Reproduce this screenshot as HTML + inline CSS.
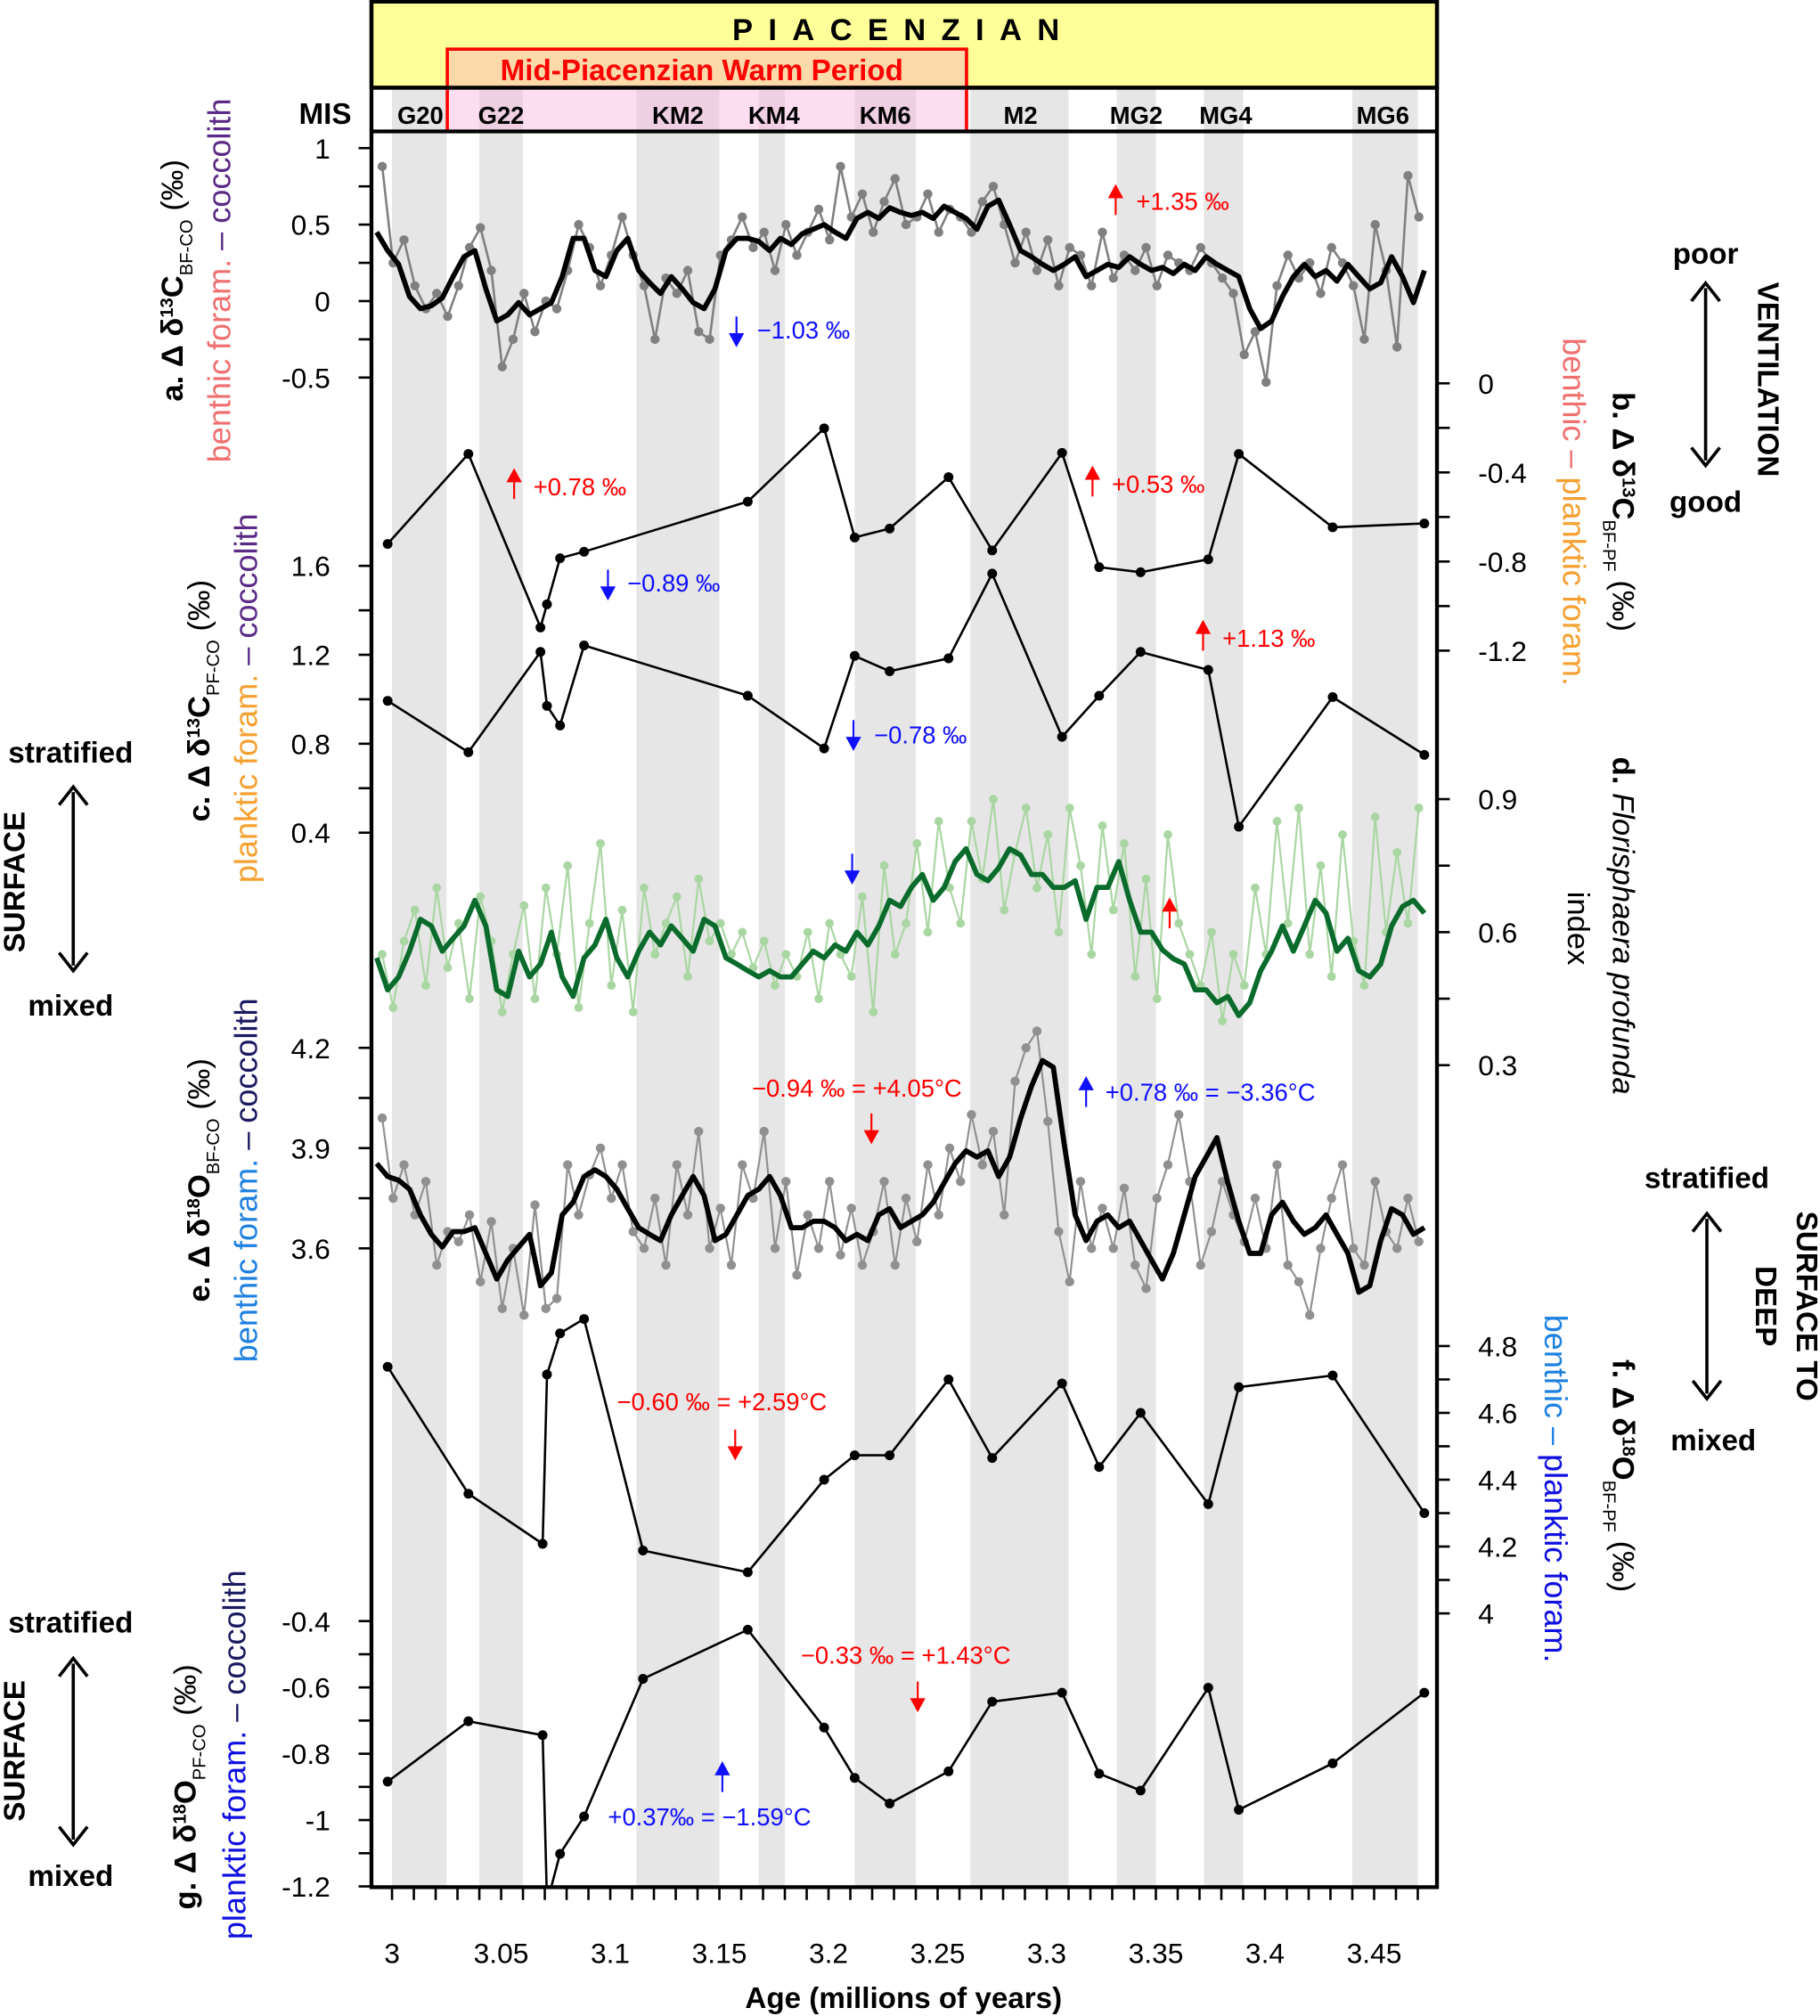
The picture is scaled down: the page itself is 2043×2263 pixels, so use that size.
<!DOCTYPE html>
<html><head><meta charset="utf-8"><style>
html,body{margin:0;padding:0;background:#fff}
svg{display:block;font-family:"Liberation Sans",Arial,sans-serif}
</style></head><body>
<svg id="chart" xmlns="http://www.w3.org/2000/svg" width="2043" height="2263" viewBox="0 0 1416 1568">
<g id="bands"></g>
<g id="header">
<rect x="289" y="1" width="829" height="67" fill="#ffff99" stroke="#000" stroke-width="3"/>
<text x="703" y="31" text-anchor="middle" font-size="24" font-weight="bold" letter-spacing="12">PIACENZIAN</text>
<rect x="348" y="38" width="404" height="30" fill="#fcd9a8"/>
<rect x="348" y="68" width="404" height="34" fill="#fbb6e0" opacity="0.45"/>
<rect x="348" y="38" width="404" height="64" fill="none" stroke="#ff0000" stroke-width="2.5"/>
<text x="546" y="62" text-anchor="middle" font-size="23" font-weight="bold" fill="#ff0000">Mid-Piacenzian Warm Period</text>
<line x1="289" y1="68" x2="1118" y2="68" stroke="#000" stroke-width="3"/>
<line x1="289" y1="102" x2="1118" y2="102" stroke="#000" stroke-width="3"/>
<text x="253" y="96" text-anchor="middle" font-size="23" font-weight="bold">MIS</text>
</g>
<g id="series"></g>
<rect x="289" y="1" width="829" height="1467" fill="none" stroke="#000" stroke-width="3"/>
<g id="axes"></g>
<g id="annot" font-size="19"></g>
<g id="labels"></g>
</svg>
<script>
// ---- data ----
const misNames=["G20","G22","KM2","KM4","KM6","M2","MG2","MG4","MG6"];
const misStart=[3.0,3.04,3.112,3.168,3.212,3.265,3.332,3.372,3.44];
const misEnd=[3.025,3.06,3.15,3.18,3.24,3.31,3.35,3.39,3.47];
const misLabelAge=[3.013,3.05,3.131,3.175,3.226,3.288,3.341,3.382,3.454];
const xTickLabels=["3","3.05","3.1","3.15","3.2","3.25","3.3","3.35","3.4","3.45"];

const aSmoothStart=2.993, aStep=0.005;
const aSmooth=[0.45,0.33,0.24,0.03,-0.05,-0.03,0.02,0.16,0.29,0.33,0.08,-0.13,-0.09,-0.01,-0.09,-0.05,-0.01,0.16,0.41,0.41,0.20,0.16,0.33,0.41,0.20,0.12,0.05,0.16,0.08,-0.01,-0.05,0.08,0.33,0.41,0.41,0.39,0.33,0.41,0.37,0.44,0.47,0.50,0.45,0.41,0.54,0.58,0.54,0.61,0.58,0.56,0.58,0.54,0.62,0.58,0.54,0.47,0.62,0.66,0.50,0.33,0.29,0.24,0.20,0.24,0.29,0.16,0.20,0.24,0.22,0.29,0.24,0.20,0.22,0.18,0.24,0.20,0.29,0.24,0.20,0.16,-0.05,-0.18,-0.13,0.03,0.16,0.24,0.16,0.20,0.13,0.24,0.16,0.08,0.12,0.29,0.16,-0.01,0.20];
const aRawStart=2.9955;
const aRaw=[0.88,0.25,0.40,0.10,-0.05,0.05,-0.10,0.10,0.35,0.48,0.20,-0.43,-0.25,0.05,-0.20,0.00,-0.05,0.20,0.50,0.35,0.10,0.30,0.55,0.30,0.10,-0.25,0.15,0.05,0.20,-0.20,-0.25,0.30,0.40,0.55,0.35,0.45,0.20,0.50,0.30,0.45,0.60,0.40,0.88,0.55,0.70,0.45,0.65,0.80,0.50,0.55,0.70,0.45,0.60,0.55,0.45,0.65,0.75,0.50,0.25,0.45,0.20,0.40,0.10,0.35,0.30,0.10,0.45,0.15,0.30,0.20,0.35,0.10,0.30,0.25,0.20,0.35,0.25,0.15,0.05,-0.35,-0.20,-0.53,0.10,0.30,0.15,0.25,0.05,0.35,0.25,0.10,-0.25,0.50,0.20,-0.30,0.82,0.55];

const lowResAges=[2.998,3.035,3.068,3.071,3.077,3.088,3.163,3.198,3.212,3.228,3.255,3.275,3.307,3.324,3.343,3.374,3.388,3.431,3.473];
const bVals=[-0.721,-0.317,-1.096,-0.992,-0.785,-0.756,-0.531,-0.202,-0.692,-0.652,-0.421,-0.750,-0.312,-0.825,-0.848,-0.790,-0.317,-0.646,-0.629];
const cVals=[0.993,0.762,1.213,0.970,0.882,1.242,1.016,0.779,1.195,1.126,1.184,1.565,0.831,1.016,1.213,1.132,0.427,1.010,0.750];
const fgAges=[2.998,3.035,3.069,3.071,3.077,3.088,3.115,3.163,3.198,3.212,3.228,3.255,3.275,3.307,3.324,3.343,3.374,3.388,3.431,3.473];
const fVals=[4.738,4.358,4.208,4.715,4.838,4.881,4.188,4.123,4.400,4.473,4.473,4.700,4.465,4.688,4.438,4.600,4.327,4.677,4.712,4.300];
const gVals=[-0.884,-0.702,-0.744,-1.25,-1.102,-0.989,-0.574,-0.426,-0.721,-0.873,-0.950,-0.853,-0.643,-0.616,-0.860,-0.911,-0.601,-0.969,-0.829,-0.616];

const dSmooth=[0.542,0.470,0.499,0.557,0.629,0.614,0.557,0.586,0.614,0.672,0.614,0.470,0.455,0.557,0.499,0.528,0.600,0.499,0.455,0.542,0.571,0.629,0.542,0.499,0.557,0.600,0.571,0.614,0.586,0.557,0.629,0.614,0.542,0.528,0.513,0.499,0.513,0.499,0.499,0.528,0.557,0.542,0.571,0.557,0.600,0.571,0.614,0.672,0.658,0.701,0.730,0.672,0.701,0.759,0.788,0.730,0.716,0.745,0.788,0.774,0.730,0.730,0.701,0.701,0.716,0.629,0.701,0.701,0.759,0.672,0.600,0.600,0.560,0.540,0.528,0.470,0.470,0.441,0.455,0.412,0.441,0.513,0.557,0.614,0.557,0.614,0.672,0.643,0.557,0.586,0.513,0.499,0.528,0.614,0.658,0.672,0.643];
const dRaw=[0.55,0.43,0.58,0.65,0.48,0.70,0.52,0.62,0.45,0.68,0.58,0.42,0.55,0.66,0.45,0.70,0.55,0.75,0.43,0.62,0.80,0.48,0.65,0.42,0.70,0.55,0.62,0.68,0.50,0.72,0.58,0.62,0.55,0.60,0.52,0.58,0.48,0.55,0.50,0.60,0.45,0.62,0.55,0.50,0.68,0.42,0.75,0.55,0.62,0.80,0.60,0.85,0.70,0.62,0.85,0.72,0.90,0.65,0.78,0.88,0.70,0.82,0.60,0.88,0.75,0.55,0.84,0.65,0.80,0.50,0.72,0.45,0.82,0.62,0.55,0.48,0.60,0.40,0.55,0.48,0.70,0.55,0.85,0.62,0.88,0.55,0.75,0.50,0.82,0.58,0.48,0.86,0.60,0.78,0.62,0.88];

const eSmooth=[3.854,3.815,3.804,3.777,3.700,3.642,3.604,3.650,3.650,3.662,3.585,3.508,3.565,3.604,3.642,3.488,3.527,3.700,3.738,3.815,3.835,3.815,3.777,3.719,3.662,3.642,3.623,3.700,3.758,3.815,3.758,3.623,3.642,3.700,3.758,3.777,3.815,3.758,3.662,3.662,3.681,3.681,3.662,3.623,3.642,3.623,3.700,3.719,3.662,3.681,3.700,3.738,3.796,3.854,3.892,3.873,3.892,3.815,3.873,3.988,4.085,4.162,4.142,3.912,3.700,3.623,3.681,3.700,3.662,3.681,3.623,3.565,3.508,3.585,3.700,3.815,3.873,3.931,3.796,3.681,3.585,3.585,3.700,3.738,3.681,3.642,3.662,3.700,3.642,3.585,3.469,3.488,3.623,3.719,3.700,3.642,3.662];
const eRaw=[3.99,3.75,3.85,3.70,3.80,3.55,3.65,3.62,3.70,3.50,3.68,3.42,3.60,3.40,3.73,3.42,3.45,3.85,3.70,3.82,3.90,3.75,3.85,3.65,3.60,3.75,3.55,3.85,3.70,3.95,3.60,3.72,3.55,3.85,3.75,3.95,3.60,3.80,3.52,3.70,3.60,3.80,3.58,3.72,3.55,3.65,3.80,3.55,3.75,3.62,3.85,3.70,3.90,3.80,4.00,3.85,3.95,3.70,4.10,4.20,4.25,3.98,3.65,3.50,3.80,3.60,3.72,3.60,3.78,3.55,3.48,3.75,3.85,4.00,3.80,3.55,3.65,3.80,3.70,3.62,3.75,3.60,3.85,3.55,3.50,3.40,3.60,3.75,3.85,3.60,3.55,3.80,3.65,3.60,3.75,3.62];

const aTicks=[1,0.5,0,-0.5], bTicks=[0,-0.4,-0.8,-1.2], cTicks=[1.6,1.2,0.8,0.4];
const dTicks=[0.9,0.6,0.3], eTicks=[4.2,3.9,3.6], fTicks=[4.8,4.6,4.4,4.2,4], gTicks=[-0.4,-0.6,-0.8,-1,-1.2];

// ---- scales ----
const NS="http://www.w3.org/2000/svg";
const X=a=>305+(a-3)*1698;
const Ya=v=>234-v*119, Yb=v=>298-v*173.3, Yc=v=>440-(v-1.6)*173, Yd=v=>725-(v-0.6)*345;
const Ye=v=>893-(v-3.9)*260, Yf=v=>1047-(v-4.8)*260, Yg=v=>1261-(v+0.4)*258;
function mk(tag,attrs,parent){const e=document.createElementNS(NS,tag);for(const k in attrs)e.setAttribute(k,attrs[k]);parent.appendChild(e);return e;}
const S=document.getElementById('series'),B=document.getElementById('bands'),AX=document.getElementById('axes'),AN=document.getElementById('annot'),LB=document.getElementById('labels');
const H=document.getElementById('header');

misNames.forEach((n,i)=>{
  const r=mk('rect',{x:X(misStart[i]),y:68,width:X(misEnd[i])-X(misStart[i]),height:1400,fill:'#e6e6e6'},B);
  
  
  const t=mk('text',{x:X(misLabelAge[i]),y:96,'text-anchor':'middle','font-size':19,'font-weight':'bold'},H);
  t.textContent=n;
  
  
});

function line(ages,vals,Y,opt,name){
  const pts=vals.map((v,i)=>X(ages[i]).toFixed(1)+','+Y(v).toFixed(1)).join(' ');
  const g=mk('g',{'clip-path':'url(#clip)'},S);
  
  
  mk('polyline',{points:pts,fill:'none',stroke:opt.c,'stroke-width':opt.w,'stroke-linejoin':'round'},g);
  if(opt.r) vals.forEach((v,i)=>{const c=mk('circle',{cx:X(ages[i]),cy:Y(v),r:opt.r,fill:opt.dc||opt.c},g);
    
    });
}
const defs=mk('defs',{},document.getElementById('chart'));
const cp=mk('clipPath',{id:'clip'},defs);mk('rect',{x:289,y:102,width:829,height:1366},cp);
const even=(s,n,st)=>Array.from({length:n},(_,i)=>s+i*st);

line(even(aRawStart,aRaw.length,aStep),aRaw,Ya,{c:'#808080',w:1.8,r:3.6},'series-a-raw');
line(even(aSmoothStart,aSmooth.length,aStep),aSmooth,Ya,{c:'#000',w:4},'series-a-smooth');
line(lowResAges,bVals,Yb,{c:'#000',w:1.8,r:3.8},'series-b');
line(lowResAges,cVals,Yc,{c:'#000',w:1.8,r:3.8},'series-c');
line(even(aRawStart,dRaw.length,aStep),dRaw,Yd,{c:'#a9d6a2',w:1.5,r:3.4},'series-d-raw');
line(even(aSmoothStart,dSmooth.length,aStep),dSmooth,Yd,{c:'#0a6b2c',w:4},'series-d-smooth');
line(even(aRawStart,eRaw.length,aStep),eRaw,Ye,{c:'#909090',w:1.5,r:3.6},'series-e-raw');
line(even(aSmoothStart,eSmooth.length,aStep),eSmooth,Ye,{c:'#000',w:4},'series-e-smooth');
line(fgAges,fVals,Yf,{c:'#000',w:1.8,r:3.8},'series-f');
line(fgAges,gVals,Yg,{c:'#000',w:1.8,r:3.8},'series-g');

function yAxis(ticks,Y,side,name){
  const g=mk('g',{},AX);
  
  
  const x0=side==='L'?289:1118, d=side==='L'?-10:10;
  const ys=ticks.map(Y), step=(ys[1]-ys[0])/2;
  const all=[];ys.forEach((y,i)=>{all.push(y);if(i<ys.length-1)all.push(y+step);});
  all.forEach(y=>mk('line',{x1:x0,y1:y,x2:x0+d,y2:y,stroke:'#000','stroke-width':1.8},g));
  ticks.forEach((t,i)=>{const tx=mk('text',{x:side==='L'?257:1150,y:ys[i]+8,'text-anchor':side==='L'?'end':'start','font-size':22},g);tx.textContent=String(t);});
}
yAxis(aTicks,Ya,'L','y-axis-a');yAxis(bTicks,Yb,'R','y-axis-b');yAxis(cTicks,Yc,'L','y-axis-c');
yAxis(dTicks,Yd,'R','y-axis-d');yAxis(eTicks,Ye,'L','y-axis-e');yAxis(fTicks,Yf,'R','y-axis-f');yAxis(gTicks,Yg,'L','y-axis-g');
{const g=mk('g',{},AX);
 
 
 for(let i=-1;i<=47;i++){const a=3+i*0.01;const x=X(a);if(x<289||x>1119)continue;mk('line',{x1:x,y1:1468,x2:x,y2:1478,stroke:'#000','stroke-width':1.8},g);}
 xTickLabels.forEach(t=>{const tx=mk('text',{x:X(parseFloat(t)),y:1527,'text-anchor':'middle','font-size':22},g);tx.textContent=t;});
 const tt=mk('text',{x:703,y:1562,'text-anchor':'middle','font-size':23,'font-weight':'bold'},g);tt.textContent='Age (millions of years)';
 }

function arrow(x,y,up,col){const g=mk('g',{},AN);
  
  if(up){mk('polygon',{points:`${x-6},${y-3} ${x+6},${y-3} ${x},${y-14}`,fill:col},g);mk('line',{x1:x,y1:y-4,x2:x,y2:y+10,stroke:col,'stroke-width':1.5},g);}
  else{mk('line',{x1:x,y1:y-10,x2:x,y2:y+4,stroke:col,'stroke-width':1.5},g);mk('polygon',{points:`${x-6},${y+3} ${x+6},${y+3} ${x},${y+14}`,fill:col},g);}}
function txt(x,y,s,col,sz,extra){const t=mk('text',Object.assign({x:x,y:y,fill:col,'font-size':sz||19},extra||{}),AN);t.textContent=s;return t;}
const R='#ff0000',BL='#1010ff';
arrow(868,157,true,R);txt(884,163,'+1.35 ‰',R);
arrow(573,256,false,BL);txt(589,263,'−1.03 ‰',BL);
arrow(400,378,true,R);txt(415,385,'+0.78 ‰',R);
arrow(473,453,false,BL);txt(488,460,'−0.89 ‰',BL);
arrow(850,376,true,R);txt(865,383,'+0.53 ‰',R);
arrow(936,496,true,R);txt(951,503,'+1.13 ‰',R);
arrow(664,570,false,BL);txt(680,578,'−0.78 ‰',BL);
arrow(663,674,false,BL);arrow(910,712,true,R);
txt(585,853,'−0.94 ‰ = +4.05°C',R);arrow(678,876,false,R);
arrow(845,851,true,BL);txt(860,856,'+0.78 ‰ = −3.36°C',BL);
txt(480,1097,'−0.60 ‰ = +2.59°C',R);arrow(572,1122,false,R);
txt(623,1294,'−0.33 ‰ = +1.43°C',R);arrow(714,1318,false,R);
arrow(562,1384,true,BL);txt(473,1420,'+0.37‰ = −1.59°C',BL);

function rot(x,y,ang,parts,sz,name,bold){
  const t=mk('text',{x:0,y:0,transform:`translate(${x},${y}) rotate(${ang})`,'text-anchor':'middle','font-size':sz||24,'font-weight':bold?'bold':'normal'},LB);
  
  parts.forEach(p=>{const s=mk('tspan',{fill:p[1]||'#000'},t);if(p[2])for(const k in p[2])s.setAttribute(k,p[2][k]);s.textContent=p[0];});
}
const sub={'font-size':14,'baseline-shift':'sub'}, bw={'font-weight':'bold'};
const supB={'font-size':14,'baseline-shift':'super','font-weight':'bold'};
rot(142,218,-90,[['a. Δ δ','#000',bw],['13','#000',supB],['C','#000',bw],['BF-CO','#000',sub],[' (‰)']],24,'y-axis-title-a');
rot(179,218,-90,[['benthic foram. ','#f07070'],['– coccolith','#5a2a86']],25,'y-axis-subtitle-a');
rot(163,545,-90,[['c. Δ δ','#000',bw],['13','#000',supB],['C','#000',bw],['PF-CO','#000',sub],[' (‰)']],24,'y-axis-title-c');
rot(200,543,-90,[['planktic foram. ','#f5a030'],['– coccolith','#5a2a86']],25,'y-axis-subtitle-c');
rot(163,918,-90,[['e. Δ δ','#000',bw],['18','#000',supB],['O','#000',bw],['BF-CO','#000',sub],[' (‰)']],24,'y-axis-title-e');
rot(200,918,-90,[['benthic foram. ','#1e80e0'],['– coccolith','#1a1a60']],25,'y-axis-subtitle-e');
rot(152,1390,-90,[['g. Δ δ','#000',bw],['18','#000',supB],['O','#000',bw],['PF-CO','#000',sub],[' (‰)']],24,'y-axis-title-g');
rot(191,1365,-90,[['planktic foram. ','#1010e0'],['– coccolith','#1a1a60']],25,'y-axis-subtitle-g');
rot(1255,398,90,[['b. Δ δ','#000',bw],['13','#000',supB],['C','#000',bw],['BF-PF','#000',sub],[' (‰)']],24,'y-axis-title-b');
rot(1216,398,90,[['benthic – ','#f07070'],['planktic foram.','#f5a030']],25,'y-axis-subtitle-b');
rot(1255,720,90,[['d. ','#000',bw],['Florisphaera profunda','#000',{'font-style':'italic'}]],24,'y-axis-title-d');
rot(1220,722,90,[['index']],24,'y-axis-subtitle-d');
rot(1255,1148,90,[['f. Δ δ','#000',bw],['18','#000',supB],['O','#000',bw],['BF-PF','#000',sub],[' (‰)']],24,'y-axis-title-f');
rot(1202,1158,90,[['benthic – ','#1e80e0'],['planktic foram.','#1010e0']],25,'y-axis-subtitle-f');
function dblArrow(x,y1,y2,name){const g=mk('g',{},LB);
  mk('line',{x1:x,y1:y1+4,x2:x,y2:y2-4,stroke:'#000','stroke-width':2.5},g);
  mk('polyline',{points:`${x-11},${y1+14} ${x},${y1} ${x+11},${y1+14}`,fill:'none',stroke:'#000','stroke-width':2.5},g);
  mk('polyline',{points:`${x-11},${y2-14} ${x},${y2} ${x+11},${y2-14}`,fill:'none',stroke:'#000','stroke-width':2.5},g);}
function bt(x,y,s,name,anchor){const t=mk('text',{x:x,y:y,'text-anchor':anchor||'middle','font-size':23,'font-weight':'bold'},LB);t.textContent=s;
  }
bt(55,593,'stratified','surface-stratified-label');dblArrow(57,612,755,'surface-arrow-1');bt(55,790,'mixed','surface-mixed-label');
rot(19,686,-90,[['SURFACE']],23,'surface-label-1',true);
bt(55,1270,'stratified','surface-stratified-label-2');dblArrow(57,1290,1435,'surface-arrow-2');bt(55,1467,'mixed','surface-mixed-label-2');
rot(19,1362,-90,[['SURFACE']],23,'surface-label-2',true);
bt(1327,205,'poor','ventilation-poor-label');dblArrow(1327,220,362,'ventilation-arrow');bt(1327,398,'good','ventilation-good-label');
rot(1368,295,90,[['VENTILATION']],23,'ventilation-label',true);
bt(1328,924,'stratified','deep-stratified-label');dblArrow(1328,944,1088,'surface-deep-arrow');bt(1333,1128,'mixed','deep-mixed-label');
rot(1398,1016,90,[['SURFACE TO']],23,'surface-to-deep-label-1',true);
rot(1366,1016,90,[['DEEP']],23,'surface-to-deep-label-2',true);
</script>
</body></html>
